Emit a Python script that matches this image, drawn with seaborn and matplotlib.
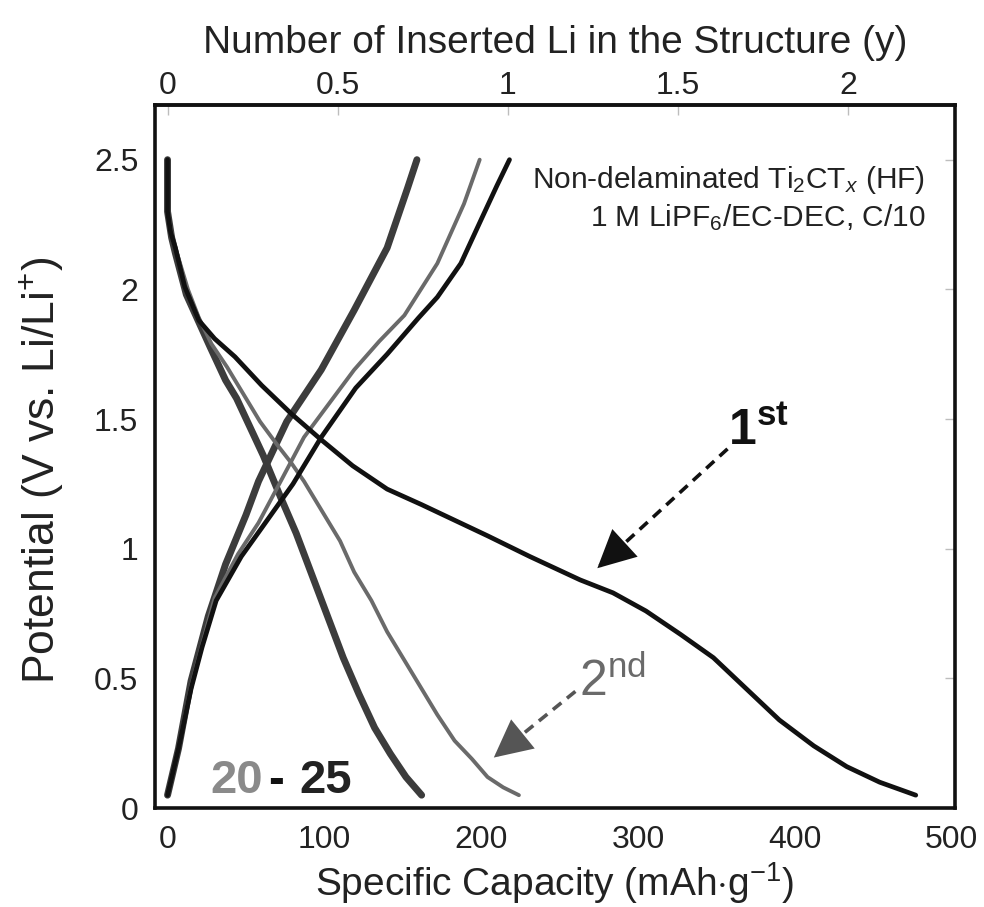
import numpy as np
import pandas as pd
import matplotlib
matplotlib.use("Agg")
import matplotlib.pyplot as plt
import seaborn as sns

# ---- galvanostatic curves: capacity (mAh/g) and potential (V vs Li/Li+) ----
cap_1st_dis = [0, 0, 2, 5, 11, 20, 30, 43, 60, 79, 98, 118, 140, 162, 183, 204,
               231, 263, 284, 305, 327, 348, 369, 390, 412, 433, 454, 477]
v_1st_dis = [2.50, 2.30, 2.22, 2.16, 2.01, 1.88, 1.81, 1.74, 1.63, 1.52, 1.42, 1.32,
             1.23, 1.17, 1.11, 1.05, 0.97, 0.88, 0.83, 0.76, 0.67, 0.58, 0.46, 0.34,
             0.24, 0.16, 0.10, 0.05]

cap_1st_chg = [0, 7, 15, 22, 31, 47, 60, 80, 98, 120, 140, 160, 172, 187, 200, 210, 218]
v_1st_chg = [0.05, 0.23, 0.46, 0.62, 0.80, 0.97, 1.08, 1.25, 1.43, 1.62, 1.75, 1.89,
             1.97, 2.10, 2.27, 2.40, 2.50]

cap_2nd_dis = [0, 0, 3, 7, 13, 20, 28, 38, 48, 59, 70, 79, 87, 98, 110, 119, 130, 140,
               151, 162, 172, 183, 194, 204, 214, 224]
v_2nd_dis = [2.50, 2.30, 2.20, 2.12, 2.00, 1.89, 1.79, 1.70, 1.60, 1.49, 1.40, 1.33,
             1.26, 1.15, 1.03, 0.91, 0.80, 0.68, 0.57, 0.46, 0.36, 0.26, 0.19, 0.12,
             0.08, 0.05]

cap_2nd_chg = [0, 7, 15, 22, 30, 45, 58, 73, 87, 103, 119, 135, 151, 172, 189, 199]
v_2nd_chg = [0.05, 0.23, 0.47, 0.63, 0.81, 0.98, 1.10, 1.27, 1.43, 1.56, 1.69, 1.80,
             1.90, 2.10, 2.33, 2.50]

cap_20_25_dis = [0, 0, 2.6, 5, 12, 27, 37, 44, 61, 72, 82, 92, 102, 112, 122, 132,
                 142, 152, 162]
v_20_25_dis = [2.50, 2.30, 2.20, 2.14, 1.98, 1.78, 1.65, 1.58, 1.36, 1.20, 1.06, 0.90,
               0.74, 0.58, 0.44, 0.31, 0.21, 0.12, 0.05]

cap_20_25_chg = [0, 7, 15, 26, 37, 50, 58, 76, 98, 119, 140, 153, 159]
v_20_25_chg = [0.05, 0.23, 0.49, 0.74, 0.94, 1.13, 1.26, 1.49, 1.69, 1.92, 2.16, 2.39,
               2.50]

x_ticks = [0, 100, 200, 300, 400, 500]
y_ticks = [0, 0.5, 1, 1.5, 2, 2.5]
y_tick_labels = ["0", "0.5", "1", "1.5", "2", "2.5"]
li_ticks = [0, 0.5, 1, 1.5, 2]
li_tick_labels = ["0", "0.5", "1", "1.5", "2"]
MAH_PER_LI = 217.0  # capacity for one Li per formula unit

curves = [
    ("20-25 dis", cap_20_25_dis, v_20_25_dis, "#3c3c3c", 5.0),
    ("20-25 chg", cap_20_25_chg, v_20_25_chg, "#3c3c3c", 5.0),
    ("2nd dis", cap_2nd_dis, v_2nd_dis, "#6a6a6a", 2.8),
    ("2nd chg", cap_2nd_chg, v_2nd_chg, "#6a6a6a", 2.8),
    ("1st dis", cap_1st_dis, v_1st_dis, "#111111", 3.4),
    ("1st chg", cap_1st_chg, v_1st_chg, "#111111", 3.4),
]

df = pd.concat(
    [pd.DataFrame({"cap": c, "V": v, "curve": name}) for name, c, v, _, _ in curves],
    ignore_index=True,
)

sns.set_style("white")
plt.rcParams["font.family"] = ["Liberation Sans", "DejaVu Sans"]
plt.rcParams["mathtext.fontset"] = "custom"
plt.rcParams["mathtext.rm"] = "Liberation Sans"
plt.rcParams["mathtext.it"] = "Liberation Sans:italic"
plt.rcParams["mathtext.bf"] = "Liberation Sans:bold"

fig = plt.figure(figsize=(9.84, 9.07), dpi=100)
ax = fig.add_axes([0.1575, 0.109, 0.813, 0.775])

for name, _, _, color, lw in curves:
    sns.lineplot(data=df[df["curve"] == name], x="cap", y="V", sort=False,
                 estimator=None, color=color, lw=lw, ax=ax, legend=False)

ax.set_xlim(-8, 502)
ax.set_ylim(0, 2.71)
ax.set_xticks(x_ticks)
ax.set_xticklabels([str(t) for t in x_ticks])
ax.set_yticks(y_ticks)
ax.set_yticklabels(y_tick_labels)
ax.tick_params(direction="in", length=7, width=1, color="#bdbdbd", labelsize=23,
               pad=12, right=True, labelcolor="#222222")
for s in ax.spines.values():
    s.set_linewidth(2.6)
    s.set_color("#111111")

ax.set_xlabel("Specific Capacity (mAh$\\cdot$g$^{-1}$)", fontsize=28, labelpad=4,
              color="#222222")
ax.set_ylabel("Potential (V vs. Li/Li$^{+}$)", fontsize=32, color="#222222")
ax.yaxis.set_label_coords(-0.112, 0.48)

secax = ax.secondary_xaxis("top", functions=(lambda c: c / MAH_PER_LI,
                                             lambda y: y * MAH_PER_LI))
secax.set_xticks(li_ticks)
secax.set_xticklabels(li_tick_labels)
secax.tick_params(direction="in", length=7, width=1, color="#bdbdbd", labelsize=23,
                  pad=3, labelcolor="#222222")
secax.spines["top"].set_linewidth(2.6)
secax.set_xlabel("Number of Inserted Li in the Structure (y)", fontsize=28,
                 labelpad=13, color="#222222")

# sample / electrolyte note
ax.text(483, 2.42, "Non-delaminated Ti$_2$CT$_x$ (HF)", ha="right", va="center",
        fontsize=21.5, color="#222222")
ax.text(483, 2.275, "1 M LiPF$_6$/EC-DEC, C/10", ha="right", va="center",
        fontsize=21.5, color="#222222")

# cycle labels
ax.text(357, 1.40, "$\\mathbf{1^{st}}$", ha="left", va="baseline", fontsize=36,
        color="#111111")
ax.text(262, 0.43, "2$^{\\mathrm{nd}}$", ha="left", va="baseline", fontsize=36,
        color="#6a6a6a")
ax.text(27, 0.06, "20", ha="left", va="baseline", fontsize=34, fontweight="bold",
        color="#8a8a8a")
ax.text(64, 0.06, "-", ha="left", va="baseline", fontsize=34, fontweight="bold",
        color="#111111")
ax.text(84, 0.06, "25", ha="left", va="baseline", fontsize=34, fontweight="bold",
        color="#222222")

# dashed pointers with solid heads
for tail, tip, color in [((357, 1.385), (274, 0.925), "#111111"),
                         ((260, 0.45), (208, 0.195), "#555555")]:
    ax.plot([tail[0], tip[0]], [tail[1], tip[1]], ls=(0, (3, 2)), lw=2.6,
            color=color, solid_capstyle="butt", dash_capstyle="butt")
    ax.annotate("", xy=tip, xytext=tail,
                arrowprops=dict(arrowstyle="-|>,head_length=0.9,head_width=0.45",
                                lw=0, color=color, mutation_scale=30,
                                shrinkA=0, shrinkB=0))

fig.savefig("out.png", dpi=100)
